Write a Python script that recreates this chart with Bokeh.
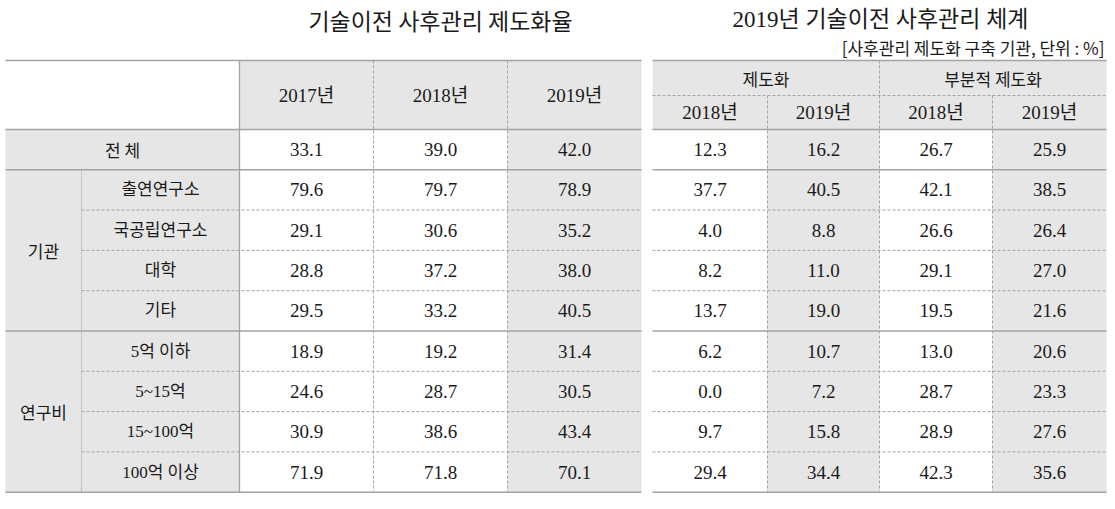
from bokeh.plotting import figure
from bokeh.models import Range1d, ColumnDataSource
from bokeh.core.properties import value
from bokeh.embed import file_html
from bokeh.resources import INLINE

# ---------------- data ----------------
title_left = "기술이전 사후관리 제도화율"
title_right = "2019년 기술이전 사후관리 체계"
unit_note = "[사후관리 제도화 구축 기관, 단위 : %]"

row_labels = ["전 체", "출연연구소", "국공립연구소", "대학", "기타",
              "5억 이하", "5~15억", "15~100억", "100억 이상"]
groups = ["기관", "연구비"]
left_years = ["2017년", "2018년", "2019년"]
right_groups = ["제도화", "부분적 제도화"]
right_years = ["2018년", "2019년", "2018년", "2019년"]

rate_2017 = [33.1, 79.6, 29.1, 28.8, 29.5, 18.9, 24.6, 30.9, 71.9]
rate_2018 = [39.0, 79.7, 30.6, 37.2, 33.2, 19.2, 28.7, 38.6, 71.8]
rate_2019 = [42.0, 78.9, 35.2, 38.0, 40.5, 31.4, 30.5, 43.4, 70.1]
inst_2018 = [12.3, 37.7, 4.0, 8.2, 13.7, 6.2, 0.0, 9.7, 29.4]
inst_2019 = [16.2, 40.5, 8.8, 11.0, 19.0, 10.7, 7.2, 15.8, 34.4]
part_2018 = [26.7, 42.1, 26.6, 29.1, 19.5, 13.0, 28.7, 28.9, 42.3]
part_2019 = [25.9, 38.5, 26.4, 27.0, 21.6, 20.6, 23.3, 27.6, 35.6]

# ---------------- layout ----------------
W, H = 1107, 493
p = figure(width=W, height=H, output_backend="svg", toolbar_location=None,
           x_range=Range1d(0, W), y_range=Range1d(H, 0),
           min_border=0, outline_line_color=None, background_fill_color="white")
p.axis.visible = False
p.grid.visible = False

KFONT = value("Noto Sans CJK KR")
NFONT = value("Liberation Serif, Noto Sans CJK KR")
GRAY = "#e6e6e6"
LINE = "#a3a3a3"
TXT = "#1a1a1a"

LC = [5, 81, 239, 373, 507, 641]          # left table column edges
RC = [652, 767, 879, 992, 1106]           # right table column edges
TOP, HMID, HBOT = 60, 95, 129
RH = 40.3
nrows = len(row_labels)
RY = [HBOT + i * RH for i in range(nrows + 1)]
rc = [(RY[i] + RY[i + 1]) / 2 for i in range(nrows)]

# ---------------- fills ----------------
fl, fr, ft, fb = [], [], [], []
def cell(l, r, t, b):
    fl.append(l); fr.append(r); ft.append(t); fb.append(b)
cell(LC[2], LC[5], TOP, HBOT)            # left header years
cell(LC[0], LC[2], HBOT, RY[-1])         # left row labels
cell(LC[4], LC[5], HBOT, RY[-1])         # left 2019 column
cell(RC[0], RC[4], TOP, HBOT)            # right header
cell(RC[1], RC[2], HBOT, RY[-1])
cell(RC[3], RC[4], HBOT, RY[-1])
p.quad(left=fl, right=fr, top=ft, bottom=fb, fill_color=GRAY, line_color=None)

# ---------------- lines ----------------
solid_major = [TOP, HBOT, RY[1], RY[5], RY[-1]]
for y in solid_major:
    p.segment(LC[0], y, LC[5], y, line_color=LINE, line_width=1.6)
    p.segment(RC[0], y, RC[4], y, line_color=LINE, line_width=1.6)
for i in [2, 3, 4, 6, 7, 8]:
    p.segment(LC[1], RY[i], LC[5], RY[i], line_color=LINE, line_width=1, line_dash="3 2")
    p.segment(RC[0], RY[i], RC[4], RY[i], line_color=LINE, line_width=1, line_dash="3 2")
p.segment(RC[0], HMID, RC[4], HMID, line_color=LINE, line_width=1, line_dash="3 2")
# verticals
p.segment(LC[2], TOP, LC[2], RY[-1], line_color=LINE, line_width=1.3)
for x in [LC[3], LC[4]]:
    p.segment(x, TOP, x, RY[-1], line_color=LINE, line_width=1, line_dash="3 2")
p.segment(LC[1], RY[1], LC[1], RY[-1], line_color=LINE, line_width=1, line_dash="1 1")
p.segment(RC[2], TOP, RC[2], RY[-1], line_color=LINE, line_width=1, line_dash="3 2")
for x in [RC[1], RC[3]]:
    p.segment(x, HMID, x, RY[-1], line_color=LINE, line_width=1, line_dash="3 2")

# ---------------- titles ----------------
p.text(x=[440], y=[19], text=[title_left], text_font=KFONT, text_font_size="23px",
       text_align="center", text_baseline="middle", text_color=TXT)
p.text(x=[880], y=[19], text=[title_right], text_font=NFONT, text_font_size="23px",
       text_align="center", text_baseline="middle", text_color=TXT)
p.text(x=[1104], y=[47], text=[unit_note], text_font=KFONT, text_font_size="17px",
       text_align="right", text_baseline="middle", text_color=TXT)

# ---------------- headers ----------------
lx = [(LC[i] + LC[i + 1]) / 2 for i in range(2, 5)]
p.text(x=lx, y=[(TOP + HBOT) / 2] * 3, text=left_years, text_font=NFONT,
       text_font_size="19px", text_align="center", text_baseline="middle", text_color=TXT)
p.text(x=[(RC[0] + RC[2]) / 2, (RC[2] + RC[4]) / 2], y=[(TOP + HMID) / 2] * 2,
       text=right_groups, text_font=KFONT, text_font_size="17px",
       text_align="center", text_baseline="middle", text_color=TXT)
rx = [(RC[i] + RC[i + 1]) / 2 for i in range(4)]
p.text(x=rx, y=[(HMID + HBOT) / 2] * 4, text=right_years, text_font=NFONT,
       text_font_size="19px", text_align="center", text_baseline="middle", text_color=TXT)

# ---------------- row labels ----------------
p.text(x=[(LC[0] + LC[2]) / 2], y=[rc[0]], text=[row_labels[0]], text_font=KFONT,
       text_font_size="17px", text_align="center", text_baseline="middle", text_color=TXT)
p.text(x=[(LC[1] + LC[2]) / 2] * (nrows - 1), y=rc[1:], text=row_labels[1:],
       text_font=NFONT, text_font_size="17px", text_align="center",
       text_baseline="middle", text_color=TXT)
p.text(x=[(LC[0] + LC[1]) / 2] * 2, y=[RY[3], RY[7]], text=groups, text_font=KFONT,
       text_font_size="17px", text_align="center", text_baseline="middle", text_color=TXT)

# ---------------- values ----------------
cols = [(lx[0], rate_2017), (lx[1], rate_2018), (lx[2], rate_2019),
        (rx[0], inst_2018), (rx[1], inst_2019), (rx[2], part_2018), (rx[3], part_2019)]
for cx, vals in cols:
    src = ColumnDataSource(dict(x=[cx] * nrows, y=rc, t=[f"{v:.1f}" for v in vals]))
    p.text(x="x", y="y", text="t", source=src, text_font=value("Liberation Serif"),
           text_font_size="19px", text_align="center", text_baseline="middle",
           text_color=TXT)

open("out.html", "w").write(file_html(p, INLINE))
